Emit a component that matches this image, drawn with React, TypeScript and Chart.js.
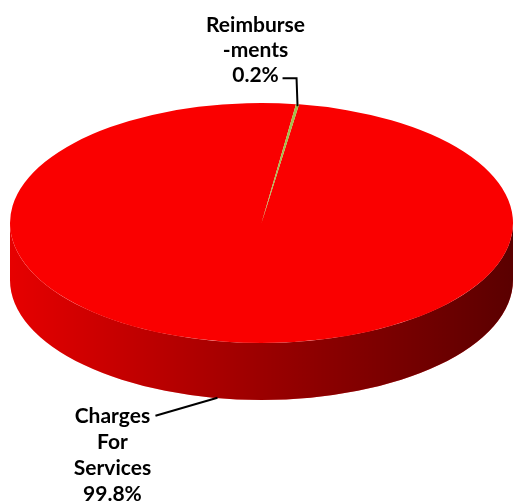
import React, { useEffect, useRef } from "react";
import { Chart, registerables } from "chart.js";

Chart.register(...registerables);

const categories = ["Charges For Services", "Reimbursements"];
const labelLines = [["Charges", "For", "Services"], ["Reimburse", "-ments"]];
const values = [99.8, 0.2];
const colors = ["#FA0000", "#A3BE4A"];
const startRotation = 8.6;

const TILT = 120 / 251.5;
const DEPTH = 57;
const TOP_CY = 223;

function sideSegments(s: number, e: number): [number, number][] {
  const out: [number, number][] = [];
  const TP = Math.PI * 2;
  for (let k = -2; k <= 3; k++) {
    const lo = Math.max(s, TP * k);
    const hi = Math.min(e, TP * k + Math.PI);
    if (lo < hi) out.push([lo - TP * k, hi - TP * k]);
  }
  return out;
}

const pie3d = {
  id: "pie3d",
  beforeDatasetsDraw(chart: any) {
    const ctx = chart.ctx;
    const meta = chart.getDatasetMeta(0);
    const ds = chart.data.datasets[0];
    ctx.save();
    meta.data.forEach((arc: any, i: number) => {
      const { x: cx, outerRadius: r, startAngle, endAngle } = arc;
      const ry = r * TILT;
      sideSegments(startAngle, endAngle).forEach(([lo, hi]) => {
        ctx.beginPath();
        ctx.moveTo(cx + r * Math.cos(lo), TOP_CY + ry * Math.sin(lo));
        ctx.ellipse(cx, TOP_CY, r, ry, 0, lo, hi);
        ctx.lineTo(cx + r * Math.cos(hi), TOP_CY + DEPTH + ry * Math.sin(hi));
        ctx.ellipse(cx, TOP_CY + DEPTH, r, ry, 0, hi, lo, true);
        ctx.closePath();
        ctx.fillStyle = ds.backgroundColor[i];
        ctx.fill();
        const g = ctx.createLinearGradient(cx - r, 0, cx + r, 0);
        g.addColorStop(0, "rgba(0,0,0,0.08)");
        g.addColorStop(0.5, "rgba(0,0,0,0.38)");
        g.addColorStop(1, "rgba(0,0,0,0.64)");
        ctx.fillStyle = g;
        ctx.fill();
      });
    });
    const cy = meta.data[0].y;
    ctx.translate(0, TOP_CY);
    ctx.scale(1, TILT);
    ctx.translate(0, -cy);
  },
  afterDatasetsDraw(chart: any) {
    chart.ctx.restore();
  },
  afterDraw(chart: any) {
    const ctx = chart.ctx;
    const meta = chart.getDatasetMeta(0);
    const total = values.reduce((a, b) => a + b, 0);
    ctx.save();
    ctx.fillStyle = "#000";
    ctx.strokeStyle = "#000";
    ctx.lineWidth = 2;
    ctx.font = "bold 21px Lato";
    ctx.textAlign = "center";
    ctx.textBaseline = "alphabetic";
    meta.data.forEach((arc: any, i: number) => {
      const { x: cx, outerRadius: r, startAngle, endAngle } = arc;
      const mid = (startAngle + endAngle) / 2;
      const ry = r * TILT;
      const pct = ((values[i] / total) * 100).toFixed(1) + "%";
      const lines = [...labelLines[i], pct];
      const sinM = Math.sin(mid);
      if (sinM < 0) {
        const ax = cx + r * Math.cos(mid);
        const ay = TOP_CY + ry * sinM;
        ctx.beginPath();
        ctx.moveTo(ax, ay + 2);
        ctx.lineTo(ax - 1, ay - 26);
        ctx.lineTo(ax - 15, ay - 26);
        ctx.stroke();
        const tx = ax - 42;
        const baseY = ay - 22;
        lines.forEach((t, j) => {
          ctx.fillText(t, tx, baseY - (lines.length - 1 - j) * 25);
        });
      } else {
        const ax = cx + r * Math.cos(mid);
        const ay = TOP_CY + DEPTH + ry * sinM;
        ctx.beginPath();
        ctx.moveTo(ax - 8, ay - 1);
        ctx.lineTo(ax - 70, ay + 17);
        ctx.stroke();
        const tx = ax - 113;
        const baseY = ay + 24;
        lines.forEach((t, j) => {
          ctx.fillText(t, tx, baseY + j * 26);
        });
      }
    });
    ctx.restore();
  },
};

export default function App() {
  const ref = useRef<HTMLCanvasElement>(null);
  useEffect(() => {
    if (!ref.current) return;
    const chart = new Chart(ref.current, {
      type: "pie",
      data: {
        labels: categories,
        datasets: [
          {
            data: values,
            backgroundColor: colors,
            borderWidth: 0,
            clip: false as any,
          },
        ],
      },
      options: {
        animation: false,
        responsive: false,
        rotation: startRotation,
        layout: { padding: { left: 10, right: 0, top: 0, bottom: 0 } },
        plugins: {
          legend: { display: false },
          tooltip: { enabled: false },
        },
      },
      plugins: [pie3d],
    });
    return () => chart.destroy();
  }, []);
  return (
    <div style={{ position: "fixed", left: 0, top: 0, width: 513, height: 504, background: "#fff" }}>
      <canvas ref={ref} width={513} height={504} style={{ display: "block" }} />
    </div>
  );
}
